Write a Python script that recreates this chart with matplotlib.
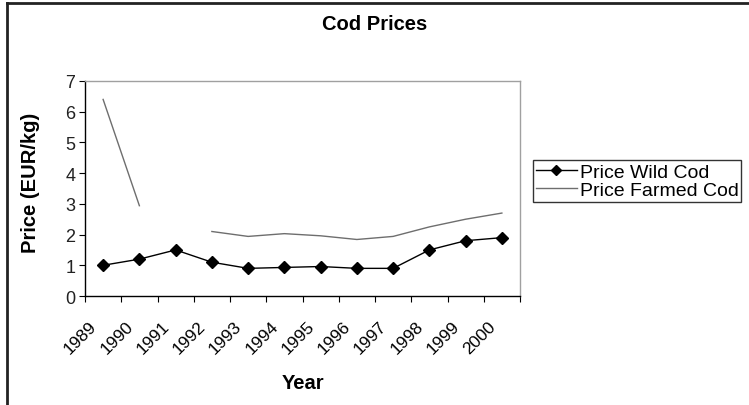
import matplotlib
matplotlib.use("Agg")
import matplotlib.pyplot as plt
import matplotlib.transforms as mtransforms
import numpy as np
from matplotlib.lines import Line2D

years = ["1989", "1990", "1991", "1992", "1993", "1994", "1995", "1996",
         "1997", "1998", "1999", "2000"]
wild = [1.0, 1.2, 1.5, 1.1, 0.9, 0.93, 0.96, 0.9, 0.9, 1.5, 1.8, 1.9]
farmed = [6.4, 2.94, np.nan, 2.1, 1.94, 2.03, 1.96, 1.84, 1.94, 2.25, 2.5, 2.7]
yticks = [0, 1, 2, 3, 4, 5, 6, 7]

plt.rcParams['font.family'] = ['Liberation Sans', 'DejaVu Sans']

fig = plt.figure(figsize=(7.49, 4.06), dpi=100)
ax = fig.add_axes([85/749, 1-297/406, 435/749, 215/406])

x = np.arange(len(years)) + 0.5
ax.plot(x, wild, color='black', lw=1.0, marker='D', ms=6.5, mfc='black', mec='black',
        label='Price Wild Cod')
ax.plot(x, farmed, color='#6e6e6e', lw=1.0, label='Price Farmed Cod')

ax.set_xlim(0, len(years))
ax.set_ylim(0, 7)
ax.set_yticks(yticks)
ax.set_yticklabels([str(t) for t in yticks], fontsize=13, color='#222222')
ax.set_xticks(np.arange(len(years) + 1))
ax.set_xticklabels([])
ax.set_xticks(x, minor=True)
ax.set_xticklabels(years, minor=True, rotation=45, ha='right', va='top',
                   rotation_mode='anchor', fontsize=12.5)
ax.tick_params(axis='x', which='minor', length=0, pad=10)
ax.tick_params(axis='x', which='major', length=4, direction='out', color='black')
ax.tick_params(axis='y', length=4, direction='out', color='black', pad=3)
offset = mtransforms.ScaledTranslation(-14/100, -8/100, fig.dpi_scale_trans)
for lbl in ax.get_xticklabels(minor=True):
    lbl.set_transform(lbl.get_transform() + offset)

for s in ['top', 'right']:
    ax.spines[s].set_color('#a0a0a0')
    ax.spines[s].set_linewidth(1.0)
for s in ['left', 'bottom']:
    ax.spines[s].set_color('black')
    ax.spines[s].set_linewidth(1.0)

ax.set_ylabel('Price (EUR/kg)', fontsize=14.5, fontweight='bold')
ax.yaxis.set_label_coords(-0.103, 0.53)
ax.set_xlabel('Year', fontsize=14.5, fontweight='bold', labelpad=12)
fig.text(375/749, 1-24/406, 'Cod Prices', ha='center', va='center',
         fontsize=14.5, fontweight='bold')

leg = fig.legend(loc='center left', bbox_to_anchor=(533/749, 1-182/406),
                 fontsize=14, frameon=True, fancybox=False, borderpad=0.15,
                 handlelength=2.1, handletextpad=0.15, labelspacing=0.05,
                 borderaxespad=0)
leg.get_frame().set_edgecolor('black')
leg.get_frame().set_linewidth(1.0)
for h in leg.get_lines():
    h.set_markersize(5)

# outer chart border (top and left visible)
fig.add_artist(Line2D([6.5/749, 6.5/749], [0, 1-3.5/406], color='#222222', lw=2,
                      transform=fig.transFigure))
fig.add_artist(Line2D([6.5/749, 1], [1-3.5/406, 1-3.5/406], color='#222222', lw=2,
                      transform=fig.transFigure))

fig.savefig('out.png', dpi=100)
